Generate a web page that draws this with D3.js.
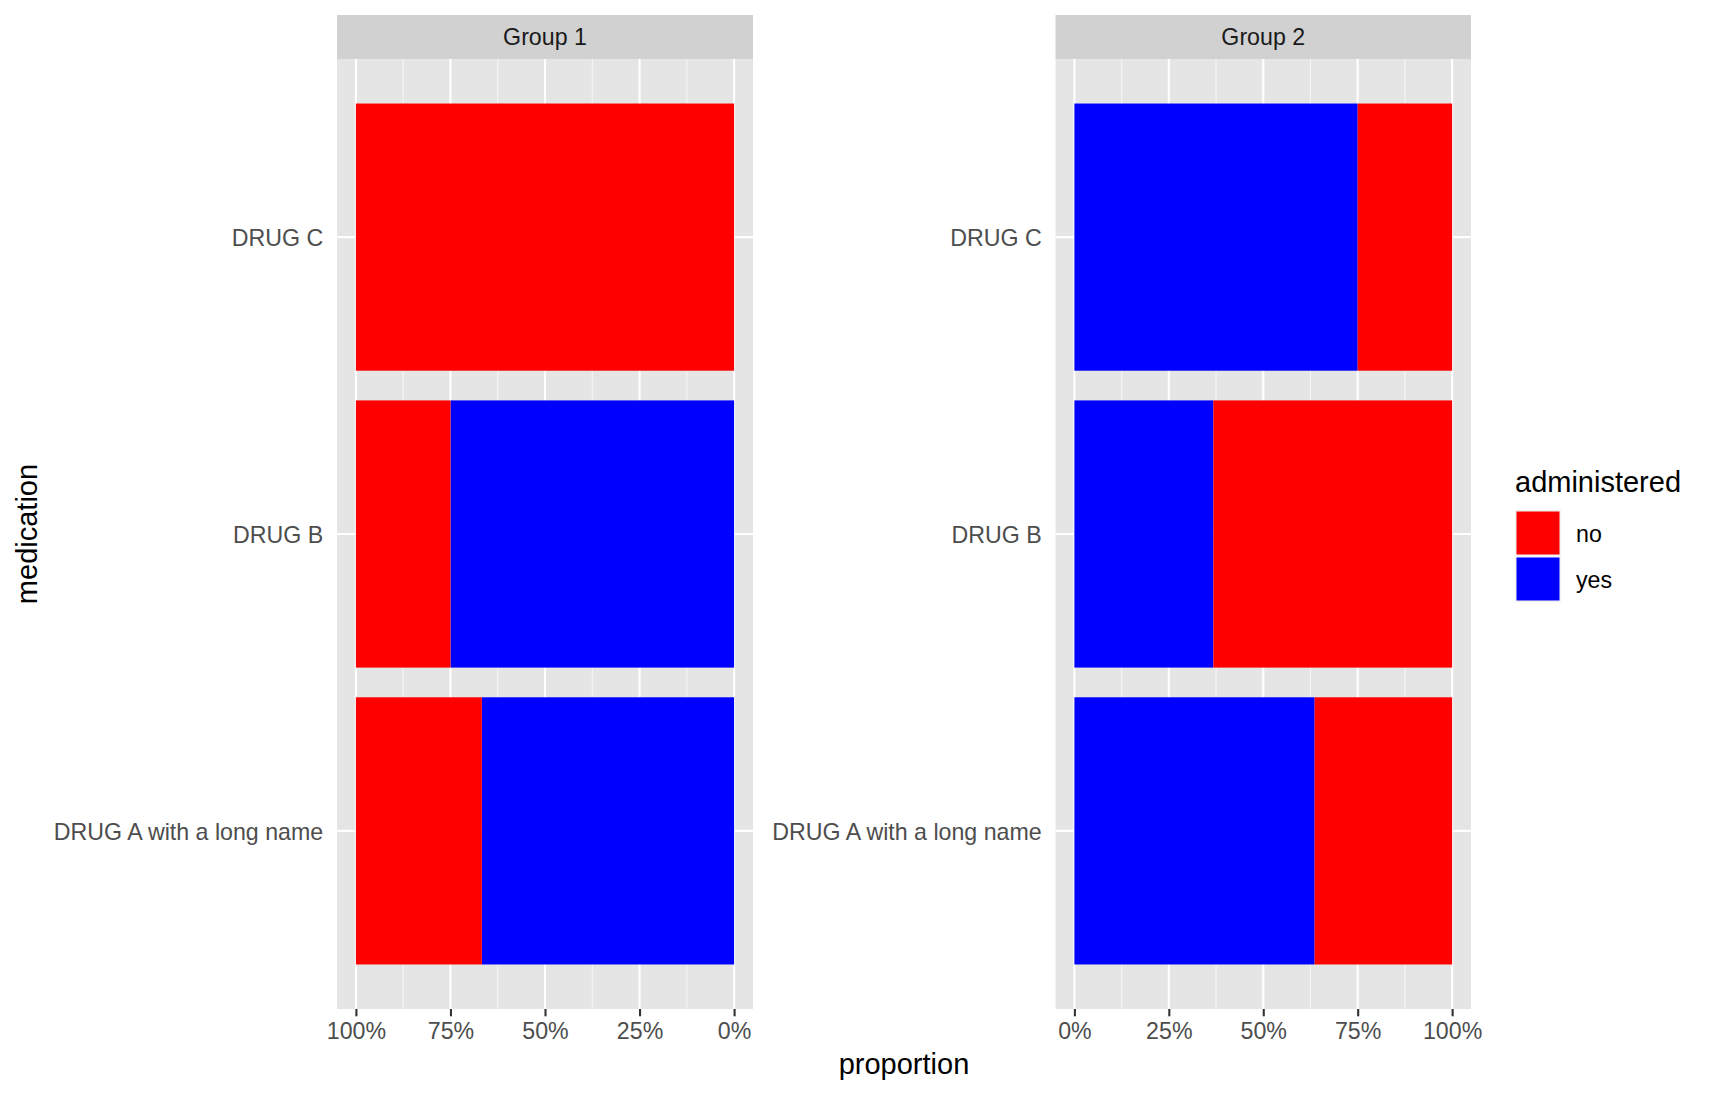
<!DOCTYPE html>
<html>
<head>
<meta charset="utf-8">
<script src="https://cdn.jsdelivr.net/npm/d3@7"></script>
<style>
  html, body { margin: 0; padding: 0; background: #ffffff; }
  svg { display: block; }
  text { font-family: "Liberation Sans", Arial, Helvetica, sans-serif; }
</style>
</head>
<body>
<svg id="chart" width="1712" height="1094"></svg>
<script>
// ---- data ----
const categories = ["DRUG A with a long name", "DRUG B", "DRUG C"];
const groups = ["Group 1", "Group 2"];
const responses = ["no", "yes"];
const responseColors = ["#FF0000", "#0000FF"];
const group1No  = [0.333, 0.25, 1.00];
const group1Yes = [0.667, 0.75, 0.00];
const group2No  = [0.364, 0.632, 0.25];
const group2Yes = [0.636, 0.368, 0.75];
const xTicks = [0, 0.25, 0.5, 0.75, 1];
const xMinorTicks = [0.125, 0.375, 0.625, 0.875];
const xTitle = "proportion";
const yTitle = "medication";
const legendTitle = "administered";

// ---- layout ----
const panelTop = 59, panelBottom = 1009;
const stripTop = 15;
const panels = [
  { name: groups[0], left: 337, right: 753, reversed: true,  no: group1No, yes: group1Yes },
  { name: groups[1], left: 1055.5, right: 1471, reversed: false, no: group2No, yes: group2Yes }
];
const fsSmall = 23.2, fsLarge = 29;
const tickLen = 7.3;

const svg = d3.select("#chart");
const color = d3.scaleOrdinal().domain(responses).range(responseColors);

// y scale: band with ggplot-like expansion (0.6 units each side, bar width 0.9)
const y = d3.scaleBand()
  .domain(categories.slice().reverse())
  .range([panelTop, panelBottom])
  .paddingInner(0.1)
  .paddingOuter(0.15);

panels.forEach(p => {
  const x = d3.scaleLinear()
    .domain([-0.05, 1.05])
    .range(p.reversed ? [p.right, p.left] : [p.left, p.right]);

  const g = svg.append("g");

  // strip
  g.append("rect")
    .attr("x", p.left).attr("y", stripTop)
    .attr("width", p.right - p.left).attr("height", panelTop - stripTop)
    .attr("fill", "#D1D1D1");
  g.append("text")
    .attr("x", (p.left + p.right) / 2)
    .attr("y", (stripTop + panelTop) / 2 + 0.36 * fsSmall)
    .attr("text-anchor", "middle")
    .attr("font-size", fsSmall)
    .attr("fill", "#1A1A1A")
    .text(p.name);

  // panel background
  g.append("rect")
    .attr("x", p.left).attr("y", panelTop)
    .attr("width", p.right - p.left).attr("height", panelBottom - panelTop)
    .attr("fill", "#E5E5E5");

  // minor grid
  g.selectAll(".minor").data(xMinorTicks).enter().append("line")
    .attr("x1", d => x(d)).attr("x2", d => x(d))
    .attr("y1", panelTop).attr("y2", panelBottom)
    .attr("stroke", "#F5F5F5").attr("stroke-width", 1.1);

  // major grid
  g.selectAll(".majorx").data(xTicks).enter().append("line")
    .attr("x1", d => x(d)).attr("x2", d => x(d))
    .attr("y1", panelTop).attr("y2", panelBottom)
    .attr("stroke", "#FFFFFF").attr("stroke-width", 2.1);
  g.selectAll(".majory").data(categories).enter().append("line")
    .attr("x1", p.left).attr("x2", p.right)
    .attr("y1", d => y(d) + y.bandwidth() / 2).attr("y2", d => y(d) + y.bandwidth() / 2)
    .attr("stroke", "#FFFFFF").attr("stroke-width", 2.1);

  // stacked bars (yes stacked from 0, then no)
  const rows = categories.map((c, i) => ({ cat: c, no: p.no[i], yes: p.yes[i] }));
  const stacked = d3.stack().keys(["yes", "no"])(rows);
  stacked.forEach(layer => {
    g.selectAll(".bar-" + layer.key).data(layer).enter().append("rect")
      .attr("x", d => Math.min(x(d[0]), x(d[1])))
      .attr("width", d => Math.abs(x(d[1]) - x(d[0])))
      .attr("y", d => y(d.data.cat))
      .attr("height", y.bandwidth())
      .attr("fill", color(layer.key));
  });

  // x axis
  const xAxis = d3.axisBottom(x)
    .tickValues(xTicks)
    .tickSize(tickLen)
    .tickPadding(5.5)
    .tickFormat(d3.format(".0%"));
  const xa = g.append("g")
    .attr("transform", `translate(0,${panelBottom})`)
    .call(xAxis);
  xa.select(".domain").remove();
  xa.selectAll(".tick line").attr("stroke", "#333333").attr("stroke-width", 2.1);
  xa.selectAll(".tick text")
    .attr("font-size", fsSmall)
    .attr("fill", "#4D4D4D")
    .attr("font-family", "Liberation Sans, Arial, sans-serif")
    .attr("dy", "0.72em");

  // y axis (no visible tick marks, labels only)
  const yAxis = d3.axisLeft(y).tickSize(tickLen).tickPadding(6.5);
  const ya = g.append("g")
    .attr("transform", `translate(${p.left},0)`)
    .call(yAxis);
  ya.select(".domain").remove();
  ya.selectAll(".tick line").remove();
  ya.selectAll(".tick text")
    .attr("x", -(tickLen + 6.5))
    .attr("dy", "0.4em")
    .attr("font-size", fsSmall)
    .attr("fill", "#4D4D4D")
    .attr("font-family", "Liberation Sans, Arial, sans-serif");
});

// axis titles
svg.append("text")
  .attr("x", (panels[0].left + panels[1].right) / 2)
  .attr("y", 1074)
  .attr("text-anchor", "middle")
  .attr("font-size", fsLarge)
  .attr("fill", "#000000")
  .text(xTitle);

svg.append("text")
  .attr("transform", `translate(37,${(panelTop + panelBottom) / 2}) rotate(-90)`)
  .attr("text-anchor", "middle")
  .attr("font-size", fsLarge)
  .attr("fill", "#000000")
  .text(yTitle);

// legend
const lg = svg.append("g");
lg.append("text")
  .attr("x", 1515).attr("y", 492)
  .attr("font-size", fsLarge)
  .attr("fill", "#000000")
  .text(legendTitle);
const keySize = 46, keyTop = 510, keyLeft = 1515;
responses.forEach((r, i) => {
  lg.append("rect")
    .attr("x", keyLeft).attr("y", keyTop + i * keySize)
    .attr("width", keySize).attr("height", keySize)
    .attr("fill", "#F2F2F2");
  lg.append("rect")
    .attr("x", keyLeft + 1.5).attr("y", keyTop + i * keySize + 1.5)
    .attr("width", keySize - 3).attr("height", keySize - 3)
    .attr("fill", color(r));
  lg.append("text")
    .attr("x", 1576)
    .attr("y", keyTop + i * keySize + keySize / 2 + 0.4 * fsSmall)
    .attr("font-size", fsSmall)
    .attr("fill", "#000000")
    .text(r);
});
</script>
</body>
</html>
